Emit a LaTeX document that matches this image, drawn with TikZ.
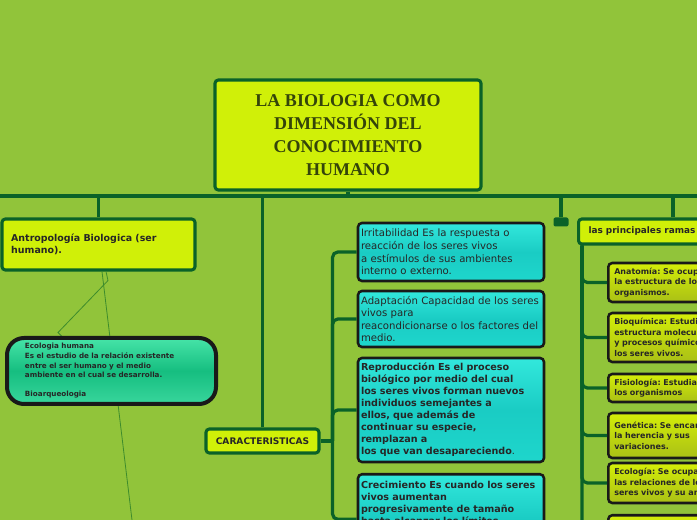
\documentclass[tikz,border=0pt]{standalone}
\usepackage{fontspec}
\setmainfont{Liberation Serif}
\newfontfamily\dejavu{DejaVu Sans}
\usetikzlibrary{positioning, calc}
\definecolor{fondo}{RGB}{145,196,58}
\definecolor{verdeosc}{RGB}{10,98,40}
\definecolor{limon}{RGB}{208,240,8}
\definecolor{oliva}{RGB}{52,68,10}
\definecolor{cianA}{RGB}{50,232,220}
\definecolor{cianM}{RGB}{26,204,196}
\definecolor{cianB}{RGB}{30,214,204}
\definecolor{mentaA}{RGB}{70,228,168}
\definecolor{mentaM}{RGB}{22,190,128}
\definecolor{mentaB}{RGB}{56,214,156}
\definecolor{amarA}{RGB}{212,238,8}
\definecolor{amarB}{RGB}{170,192,22}
\definecolor{linfina}{RGB}{62,140,44}
\tikzset{
  rama/.style={verdeosc, line width=2.4pt},
  ramafina/.style={linfina, line width=0.6pt},
  raiz/.style={draw=verdeosc, line width=2.3pt, fill=limon, rounded corners=2.5pt,
    minimum width=199.5pt, minimum height=82.5pt, align=center, text=oliva,
    font=\fontsize{13.5}{17.25}\selectfont\bfseries},
  tema/.style={draw=verdeosc, line width=2.3pt, fill=limon, rounded corners=2.5pt,
    text=black!85, align=left},
  cian/.style={draw=black!90, line width=1.9pt, rounded corners=3pt,
    top color=cianA, bottom color=cianB, middle color=cianM,
    text width=135pt, inner xsep=2.25pt, minimum width=139.5pt, align=left, text=black!85,
    font=\dejavu\frenchspacing\fontsize{7.6}{9.4}\selectfont},
  cianneg/.style={cian, font=\dejavu\frenchspacing\bfseries\fontsize{7.2}{9}\selectfont},
  hoja/.style={draw=black!90, line width=1.9pt, rounded corners=3pt,
    top color=amarA, bottom color=amarB, text width=140pt, inner xsep=4.5pt,
    align=left, anchor=west, text=black!85,
    font=\dejavu\frenchspacing\bfseries\fontsize{6}{7.9}\selectfont},
  marca/.style={fill=verdeosc, rounded corners=1.5pt, minimum width=11.25pt,
    minimum height=6.75pt, inner sep=0pt},
}
\begin{document}
\begin{tikzpicture}[x=0.75pt, y=-0.75pt]
  % Fondo
  \useasboundingbox (0,0) rectangle (697,520);
  \fill[fondo] (0,0) rectangle (697,520);

  % Tema central
  \node[raiz] (raiz) at (348,135) {LA BIOLOGIA COMO\\DIMENSIÓN DEL\hspace*{8pt}\\CONOCIMIENTO\\HUMANO};

  % Rama izquierda
  \node[tema, minimum width=144.75pt, minimum height=38.25pt, text width=131pt, inner xsep=6.75pt,
    font=\dejavu\frenchspacing\bfseries\fontsize{7.1}{8.6}\selectfont] (antro) at (98.5,244.5)
    {Antropología Biologica (ser\\humano).};
  \coordinate (finA) at (132,520);
  \draw[ramafina] ($(antro.south)+(3.5,0)$) -- (finA);
  \draw[ramafina] ($(antro.south)+(7.5,0)$) -- ++(2,9) -- ++(-50,52) -- ++(5,5);
  \node[draw=black!90, line width=3pt, rounded corners=12.75pt,
    top color=mentaA, bottom color=mentaB, middle color=mentaM,
    minimum width=156.75pt, minimum height=49.5pt, text width=129.75pt, inner xsep=13.5pt,
    align=left, text=black!85, font=\dejavu\frenchspacing\bfseries\fontsize{5.4}{7.2}\selectfont] (eco) at (111.5,371)
    {Ecologia humana\\Es el estudio de la relación existente\\entre el ser humano y el medio\\ambiente en el cual se desarrolla.\\[7.2pt]Bioarqueologia};

  % Caracteristicas
  \node[tema, minimum width=84.75pt, minimum height=18pt, align=center,
    font=\dejavu\bfseries\fontsize{6.8}{8}\selectfont] (carac) at (262.5,441) {CARACTERISTICAS};
  \node[cian, minimum height=43.5pt] (irr) at (451,252)
    {Irritabilidad Es la respuesta o\\reacción de los seres vivos\\a estímulos de sus ambientes\\interno o externo.};
  \node[cian, minimum height=42pt] (ada) at (451,319)
    {Adaptación Capacidad de los seres\\vivos para\\reacondicionarse o los factores del\\medio.};
  \node[cianneg, minimum height=78pt] (rep) at (451,410)
    {Reproducción Es el proceso\\biológico por medio del cual\\los seres vivos forman nuevos\\individuos semejantes a\\ellos, que además de\\continuar su especie,\\remplazan a\\los que van desapareciendo\textmd{.}};
  \node[cianneg, anchor=north, inner ysep=5pt] (cre) at (451,473)
    {Crecimiento Es cuando los seres\\vivos aumentan\\progresivamente de tamaño\\hasta alcanzar los límites\\\rule{0pt}{24pt}};

  % Ramas principales
  \node[tema, anchor=west, minimum width=112pt, minimum height=18.75pt, text width=97pt,
    inner xsep=7.5pt, font=\dejavu\bfseries\fontsize{6.7}{8}\selectfont] (ramas) at (577,231.5)
    {las principales ramas};
  \node[hoja, minimum height=29.25pt] (anat) at (607,282.5)
    {Anatomía: Se ocupa de\\la estructura de los\\organismos.};
  \node[hoja, minimum height=36.75pt] (bioq) at (607,337.5)
    {Bioquímica: Estudia la\\estructura molecular\\y procesos químicos de\\los seres vivos.};
  \node[hoja, minimum height=21pt] (fisio) at (607,388)
    {Fisiología: Estudia las funciones de\\los organismos};
  \node[hoja, minimum height=33.75pt] (gene) at (607,435.5)
    {Genética: Se encarga de\\la herencia y sus\\variaciones.};
  \node[hoja, minimum height=30pt] (ecol) at (607,483)
    {Ecología: Se ocupa de\\las relaciones de los\\seres vivos y su ambiente};
  \node[hoja, minimum height=33pt, anchor=north west] (ult) at (607,514) {};

  % Barra principal
  \coordinate (barI) at (0,196);
  \coordinate (barD) at (697,196);
  \draw[rama, line width=3pt] (barI) -- (barD);
  \draw[rama] (raiz.south) -- (raiz.south |- barI);
  \draw[rama] (antro.north) -- (antro.north |- barI);
  \draw[rama] (carac.north) -- (carac.north |- barI);
  \node[marca] (pliegue) at (561,222) {};
  \draw[rama] (pliegue) -- (pliegue |- barI);
  \coordinate (ramasT) at ([xshift=72pt]ramas.north west);
  \draw[rama] (ramasT) -- (ramasT |- barI);

  % Conectores de caracteristicas
  \coordinate (cEje) at ($(carac.east)+(12,0)$);
  \draw[rama] (carac.east) -- (cEje);
  \foreach \n in {irr, ada, rep, cre}{
    \draw[rama, rounded corners=4pt] (cEje) |- (\n.west);
  }

  % Conectores de ramas
  \coordinate (rEje) at ($(ramas.south west)+(5,0)$);
  \foreach \n in {anat, bioq, fisio, gene, ecol, ult}{
    \draw[rama, rounded corners=4pt] (rEje) |- (\n.west);
  }
\end{tikzpicture}
\end{document}
